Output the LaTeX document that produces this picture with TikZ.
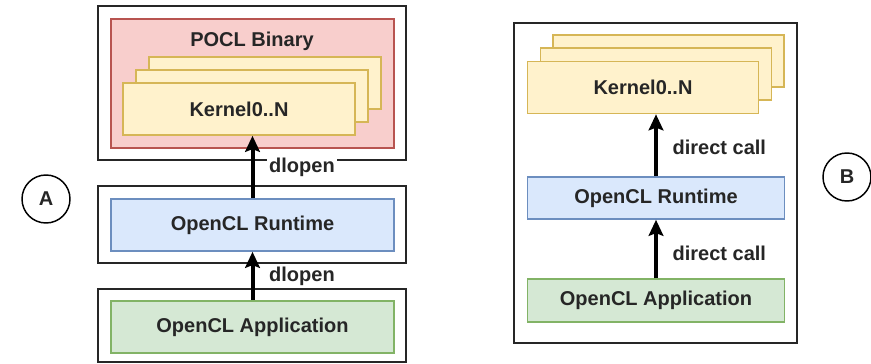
\documentclass[tikz,border=0pt]{standalone}
\usepackage{fontspec}
\setmainfont{Liberation Sans}
\usetikzlibrary{arrows.meta}
\definecolor{pcRedFill}{HTML}{F8CECC}
\definecolor{pcRedLine}{HTML}{B85450}
\definecolor{pcYellowFill}{HTML}{FFF2CC}
\definecolor{pcYellowLine}{HTML}{D6B656}
\definecolor{pcBlueFill}{HTML}{DAE8FC}
\definecolor{pcBlueLine}{HTML}{6C8EBF}
\definecolor{pcGreenFill}{HTML}{D5E8D4}
\definecolor{pcGreenLine}{HTML}{82B366}
\tikzset{
  pc frame/.style={draw=black!85, line width=1.5pt, fill=white, inner sep=0pt},
  pc box/.style={line width=1.2pt, inner sep=0pt, font=\fontsize{15}{18}\selectfont\bfseries, text=black!85},
  pc label/.style={font=\fontsize{15}{18}\selectfont\bfseries, text=black!85},
}
\begin{document}
\begin{tikzpicture}[x=0.75pt, y=-0.75pt,
  binary/.style={pc box, draw=pcRedLine, fill=pcRedFill},
  kernel/.style={pc box, draw=pcYellowLine, fill=pcYellowFill, minimum width=174pt, minimum height=39pt},
  runtime/.style={pc box, draw=pcBlueLine, fill=pcBlueFill},
  app/.style={pc box, draw=pcGreenLine, fill=pcGreenFill},
  tag/.style={pc label, circle, draw=black, line width=1.1pt, fill=white, minimum size=36pt, inner sep=0pt},
  call/.style={pc label, fill=white, anchor=west, xshift=9pt, inner sep=2pt},
  flow/.style={draw=black, line width=3pt, -{Stealth[length=12pt, width=11pt, inset=2pt]}}
]
  \useasboundingbox (0,0) rectangle (871,364);

  % variant A: loaded with dlopen
  \node[pc frame, minimum width=231pt, minimum height=115pt] (binFrameA) at (252,83) {};
  \node[binary, minimum width=212pt, minimum height=97pt] (binA) at (252.5,83.5) {};
  \node[pc label] (binLblA) at (252,41) {POCL Binary};
  \node[kernel] (kBackA) at (265,83) {};
  \node[kernel] (kMidA) at (252,96) {};
  \node[kernel] (kFrontA) at (239,109) {Kernel0..N};

  \node[pc frame, minimum width=231pt, minimum height=58pt] (rtFrameA) at (252,224.5) {};
  \node[runtime, minimum width=212pt, minimum height=39pt] (rtA) at (252.5,225) {OpenCL Runtime};

  \node[pc frame, minimum width=231pt, minimum height=55pt] (appFrameA) at (252,325.5) {};
  \node[app, minimum width=212pt, minimum height=39pt] (appA) at (252.5,327) {OpenCL Application};

  \draw[flow] (rtA.north) -- (rtA.north |- kFrontA.south)
    node[call, pos=0.5] (dlA1) {dlopen};
  \draw[flow] (appA.north) -- (rtA.south)
    node[call, pos=0.5] (dlA2) {dlopen};

  \node[tag] (tagA) at (46,199) {A};

  % variant B: direct calls
  \node[pc frame, minimum width=212pt, minimum height=240pt] (frameB) at (655.5,183) {};
  \node[kernel, minimum width=173pt] (kBackB) at (668.5,61) {};
  \node[kernel, minimum width=173pt] (kMidB) at (656,74) {};
  \node[kernel, minimum width=173pt] (kFrontB) at (643,87.5) {Kernel0..N};
  \node[runtime, minimum width=193pt, minimum height=31.5pt] (rtB) at (656,198) {OpenCL Runtime};
  \node[app, minimum width=193pt, minimum height=32pt] (appB) at (656,300.5) {OpenCL Application};

  \draw[flow] (rtB.north) -- (rtB.north |- kFrontB.south)
    node[call, pos=0.47] (dcB1) {direct call};
  \draw[flow] (appB.north) -- (rtB.south)
    node[call, pos=0.43] (dcB2) {direct call};

  \node[tag] (tagB) at (847,177) {B};
\end{tikzpicture}
\end{document}
